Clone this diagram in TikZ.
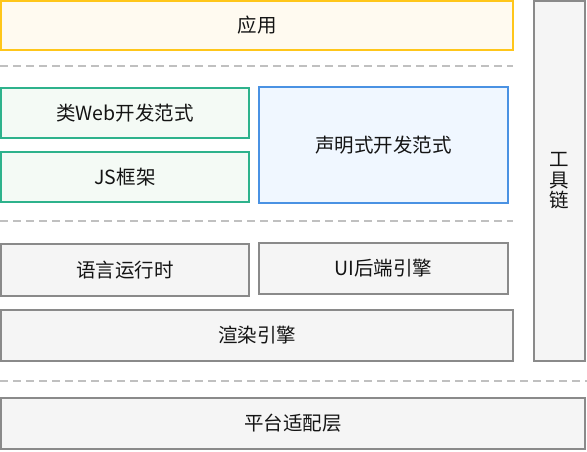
\documentclass[tikz,border=0pt]{standalone}
\usepackage{fontspec}
\setmainfont{Noto Sans CJK SC}
\definecolor{ylwB}{HTML}{FFC61A}
\definecolor{ylwF}{HTML}{FFFAF0}
\definecolor{grnB}{HTML}{2EB28C}
\definecolor{grnF}{HTML}{F4FAF5}
\definecolor{bluB}{HTML}{4A92E3}
\definecolor{bluF}{HTML}{F0F7FF}
\definecolor{gryB}{HTML}{8A8A8A}
\definecolor{gryF}{HTML}{F5F5F5}
\definecolor{dashC}{HTML}{C0C0C0}
\definecolor{txtC}{HTML}{141414}
\begin{document}
\begin{tikzpicture}[x=1pt,y=-1pt,
  layer/.style={draw, line width=1.8pt, inner sep=0pt, font=\fontsize{19.5}{20}\selectfont, text=txtC},
  ybox/.style={layer, draw=ylwB, fill=ylwF},
  gbox/.style={layer, draw=grnB, fill=grnF},
  bbox/.style={layer, draw=bluB, fill=bluF},
  hbox/.style={layer, draw=gryB, fill=gryF},
  sep/.style={draw=dashC, line width=1.5pt, dash pattern=on 8pt off 5pt}]
\useasboundingbox (0,0) rectangle (587,451);
\fill[white] (0,0) rectangle (587,451);
% layers
\node[ybox, minimum width=512pt, minimum height=49pt] (app) at (257,25.5) {应用};
\node[gbox, minimum width=248pt, minimum height=50pt] (web) at (125,113) {类Web开发范式};
\node[gbox, minimum width=248pt, minimum height=50pt] (js) at (125,177) {JS框架};
\node[bbox, minimum width=249pt, minimum height=116pt] (decl) at (383.5,145) {声明式开发范式};
\node[hbox, minimum width=248pt, minimum height=52pt] (rt) at (125,270) {语言运行时};
\node[hbox, minimum width=249pt, minimum height=51pt] (ui) at (383.5,268.5) {UI后端引擎};
\node[hbox, minimum width=512pt, minimum height=51pt] (render) at (257,335.5) {渲染引擎};
\node[hbox, minimum width=51pt, minimum height=360pt, align=center, font=\fontsize{19.5}{20.5}\selectfont] (tool) at (559.5,181) {工\\具\\链};
\node[hbox, minimum width=584pt, minimum height=51pt] (plat) at (293,423.5) {平台适配层};
% separators
\coordinate (s1a) at (0,66); \coordinate (s1b) at (513,66);
\coordinate (s2a) at (0,221); \coordinate (s2b) at (513,221);
\coordinate (s3a) at (0,381); \coordinate (s3b) at (587,381);
\draw[sep] (s1a) -- (s1b);
\draw[sep] (s2a) -- (s2b);
\draw[sep] (s3a) -- (s3b);
\end{tikzpicture}
\end{document}
